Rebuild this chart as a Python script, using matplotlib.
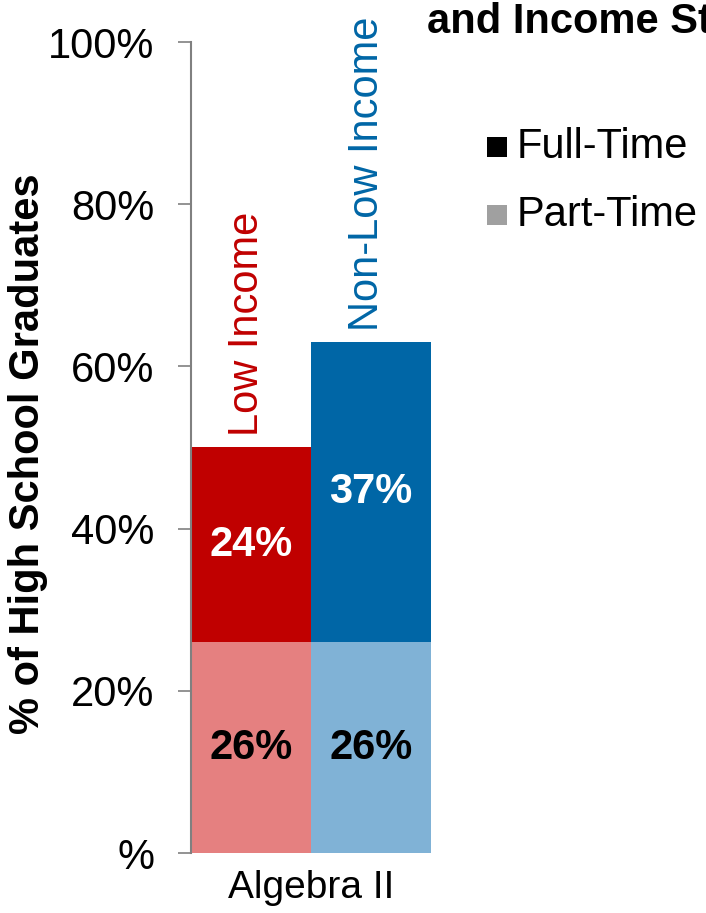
import matplotlib
matplotlib.use("Agg")
import matplotlib.pyplot as plt
from matplotlib.patches import Rectangle

plt.rcParams['font.family'] = ['Liberation Sans', 'DejaVu Sans']

# ---- data ----
groups = ['Low Income', 'Non-Low Income']
course = 'Algebra II'
part_time = [26, 26]
full_time = [24, 37]
yticks = [0, 20, 40, 60, 80, 100]
ytick_labels = ['%', '20%', '40%', '60%', '80%', '100%']
legend_labels = ['Full-Time', 'Part-Time']

full_colors = ['#C00000', '#0066A6']
part_colors = ['#E58080', '#80B2D6']
group_text_colors = ['#C00000', '#0066A6']

W, H = 706, 913
fig = plt.figure(figsize=(W / 100, H / 100), dpi=100)
ax = fig.add_axes([191 / W, 1 - 853 / H, 240 / W, (853 - 42) / H])

x = list(range(len(groups)))
ax.bar(x, part_time, width=1.0, color=part_colors, linewidth=0, align='center')
ax.bar(x, full_time, bottom=part_time, width=1.0, color=full_colors, linewidth=0)

for i in x:
    ax.text(i, part_time[i] / 2, f'{part_time[i]}%', ha='center', va='center',
            fontsize=30, fontweight='bold', color='black')
    ax.text(i, part_time[i] + full_time[i] / 2, f'{full_time[i]}%', ha='center', va='center',
            fontsize=30, fontweight='bold', color='white')
    ax.annotate(groups[i], xy=(i - 0.03, part_time[i] + full_time[i]), xytext=(0, 11),
                textcoords='offset pixels', rotation=90, ha='center', va='bottom',
                fontsize=30, color=group_text_colors[i], annotation_clip=False)

ax.set_xlim(-0.5, 1.5)
ax.set_ylim(0, 100)
ax.set_yticks(yticks)
ax.set_yticklabels(ytick_labels, fontsize=30)
ax.set_xticks([0.5])
ax.set_xticklabels([course], fontsize=28)
ax.tick_params(axis='x', length=0, pad=12)
ax.tick_params(axis='y', length=9.5, width=1.2, color='#808080', pad=17)
for s in ['top', 'right', 'bottom']:
    ax.spines[s].set_visible(False)
ax.spines['left'].set_color('#808080')
ax.spines['left'].set_linewidth(1.5)

# y-axis title placed explicitly
fig.text(28 / W, 1 - 454 / H, '% of High School Graduates', rotation=90,
         fontsize=30, fontweight='bold', ha='center', va='center')

# title (cut off at the right edge in the reference)
fig.text(427 / W, 1 - 33 / H, 'and Income Status', fontsize=30, fontweight='bold',
         ha='left', va='baseline')

# legend
leg_y = [147, 215]
leg_face = ['black', '#A0A0A0']
for yy, lab, fc in zip(leg_y, legend_labels, leg_face):
    fig.patches.append(Rectangle((487 / W, 1 - (yy + 10) / H), 20 / W, 20 / H,
                                 transform=fig.transFigure, facecolor=fc, edgecolor='none'))
    fig.text(517 / W, 1 - yy / H, lab, fontsize=30, ha='left', va='center')

fig.savefig('out.png', dpi=100)
